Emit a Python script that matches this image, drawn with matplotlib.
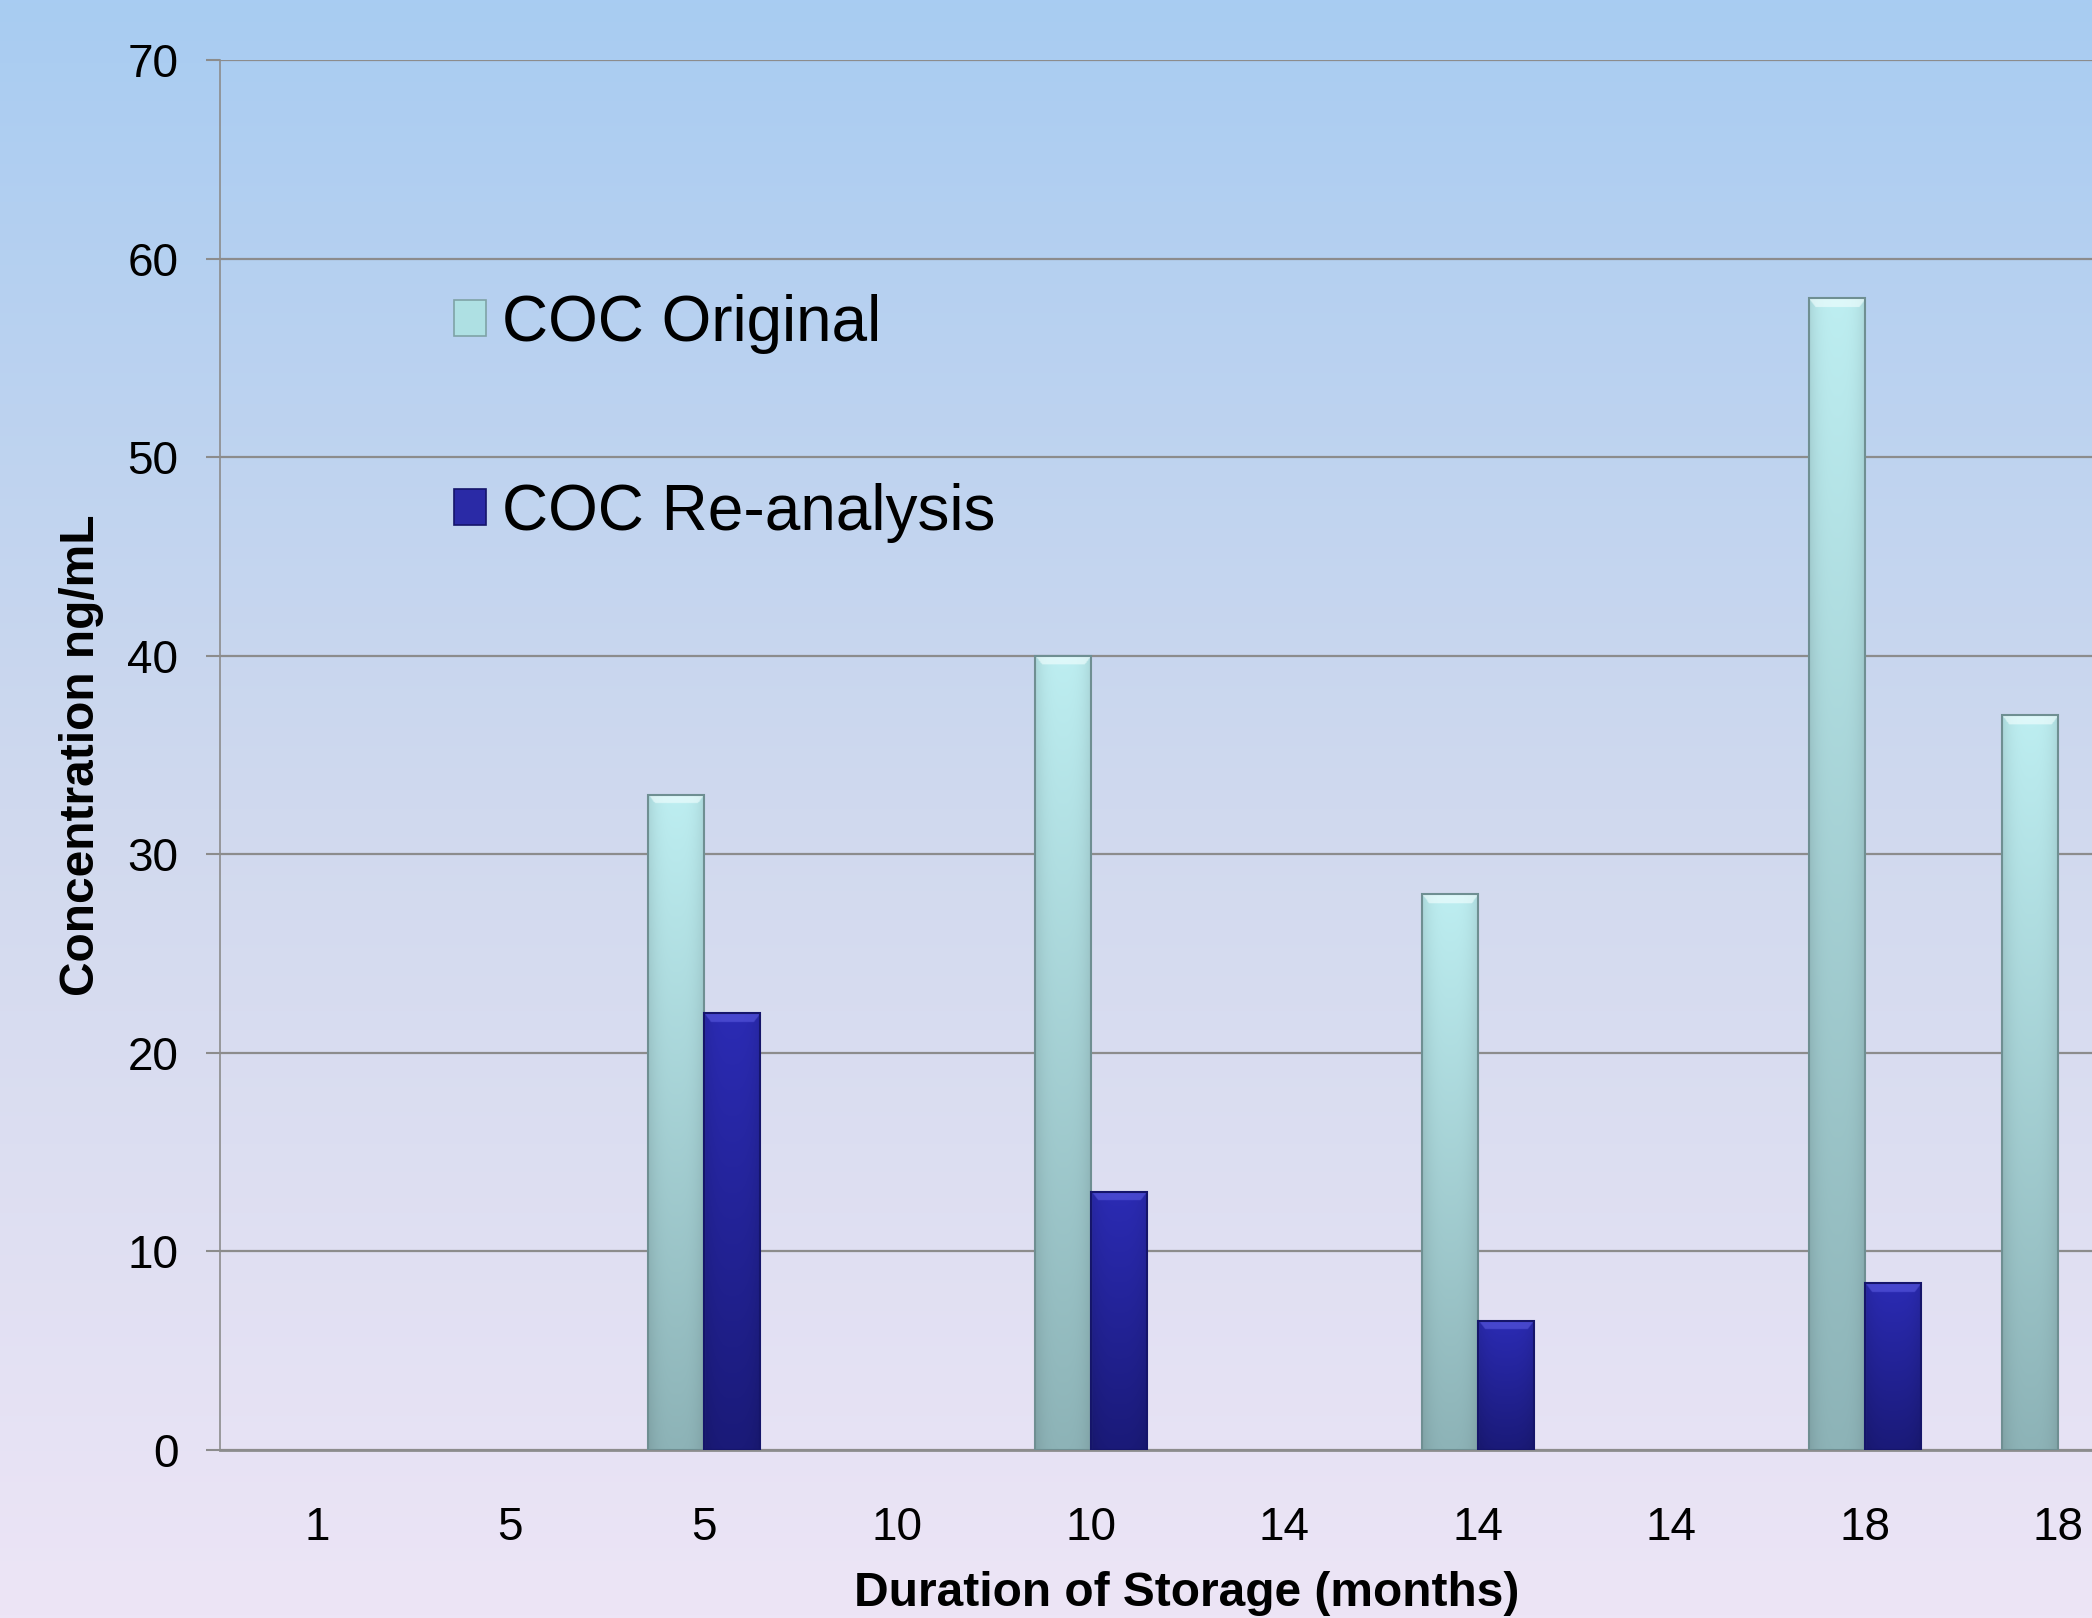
import numpy as np
import matplotlib
matplotlib.use("Agg")
import matplotlib.pyplot as plt
from matplotlib.patches import Patch
from matplotlib.colors import to_rgb

# ---- data ----
categories = ["1", "5", "5", "10", "10", "14", "14", "14", "18", "18"]
coc_original = [0, 0, 33, 0, 40, 0, 28, 0, 58, 37]
coc_reanalysis = [0, 0, 22, 0, 13, 0, 6.5, 0, 8.4, 0]
series_names = ["COC Original", "COC Re-analysis"]
y_ticks = [0, 10, 20, 30, 40, 50, 60, 70]

plt.rcParams['font.family'] = ['Liberation Sans', 'DejaVu Sans']

W, H = 2092, 1618
fig = plt.figure(figsize=(W / 100, H / 100), dpi=100)

# background gradient
bg = fig.add_axes([0, 0, 1, 1], zorder=-10)
stops = np.array([0.0, 0.5, 1.0])
cols = np.array([[168, 204, 242], [208, 217, 238], [237, 229, 246]]) / 255.0
t = np.linspace(0, 1, 512)
grad = np.stack([np.interp(t, stops, cols[:, k]) for k in range(3)], axis=1)
bg.imshow(grad[:, None, :], aspect='auto', extent=[0, 1, 0, 1], origin='upper')
bg.set_axis_off()

left = 220 / W
bottom = (H - 1450) / H
top = 1 - 60 / H
right = 2155 / W
ax = fig.add_axes([left, bottom, right - left, top - bottom], zorder=1)
ax.patch.set_alpha(0)

x = np.arange(len(categories))
bw = 0.29
orig = np.array(coc_original, dtype=float)
rean = np.array(coc_reanalysis, dtype=float)
bevel = 0.45  # data units of the top bevel highlight


def grad_bars(ax, bars, top_c, bot_c, edge, hi):
    top_c = np.array(to_rgb(top_c))
    bot_c = np.array(to_rgb(bot_c))
    hi = np.array(to_rgb(hi))
    for r in bars:
        h = r.get_height()
        if h <= 0:
            r.set_visible(False)
            continue
        x0 = r.get_x()
        w = r.get_width()
        n = 1024
        yy = np.linspace(0, h, n)
        v = (yy / h)[:, None, None]
        img = bot_c[None, None, :] * (1 - v) + top_c[None, None, :] * v
        hx = np.linspace(-1, 1, 64)
        shade = 1 - 0.10 * np.abs(hx) ** 3
        img = img * shade[None, :, None]
        # top bevel: lighter band with trapezoid shape
        for i in range(n):
            d = h - yy[i]
            if d < bevel:
                frac = d / bevel
                lim = frac * 0.12
                mask = (np.abs(hx) <= 1 - lim * 2)
                img[i, mask, :] = img[i, mask, :] * 0.4 + hi * 0.6
        img = np.clip(img, 0, 1)
        im = ax.imshow(img, extent=[x0, x0 + w, 0, h], origin='lower',
                       aspect='auto', zorder=2, interpolation='bilinear')
        im.set_clip_path(r)
        r.set_facecolor('none')
        r.set_edgecolor(edge)
        r.set_linewidth(1.5)
        r.set_zorder(3)


b1 = ax.bar(x - bw / 2, orig, bw)
b2 = ax.bar(x + bw / 2, rean, bw)
grad_bars(ax, b1, '#bdeef1', '#8db3b7', '#6f8f92', '#f4ffff')
grad_bars(ax, b2, '#2b2bb4', '#1a1a78', '#15156a', '#5a5ae0')

ax.set_xlim(-0.5, len(categories) - 0.5)
ax.set_ylim(0, 70)
ax.set_yticks(y_ticks)
ax.set_xticks(x)
ax.set_xticklabels(categories)

ax.grid(axis='y', color='#8c8c8c', lw=1.6, zorder=0)
ax.set_axisbelow(True)
for s in ['top', 'right']:
    ax.spines[s].set_visible(False)
ax.spines['left'].set_color('#8c8c8c')
ax.spines['left'].set_linewidth(1.2)
ax.spines['bottom'].set_color('#8c8c8c')
ax.spines['bottom'].set_linewidth(2)
ax.tick_params(axis='y', length=10, width=1.5, color='#8c8c8c', pad=20,
               labelsize=33)
ax.tick_params(axis='x', length=0, pad=40, labelsize=33)

ax.set_ylabel("Concentration ng/mL", fontsize=34.5, fontweight='bold',
              va='center', ha='center')
ax.yaxis.set_label_coords(-0.0714, 0.5)
ax.set_xlabel("Duration of Storage (months)", fontsize=34.5, fontweight='bold',
              va='center', ha='center')
ax.xaxis.set_label_coords(0.4997, -0.103)

handles = [Patch(facecolor='#aee0e3', edgecolor='#7fa3a6', lw=1.2),
           Patch(facecolor='#2a2aa6', edgecolor='#15156a', lw=1.2)]
leg = ax.legend(handles, series_names, loc='upper left',
                bbox_to_anchor=(0.121, 0.832), frameon=False, fontsize=46,
                handlelength=0.5, handleheight=0.5, handletextpad=0.25,
                labelspacing=2.02, borderpad=0, borderaxespad=0)

fig.savefig("out.png", dpi=100)
